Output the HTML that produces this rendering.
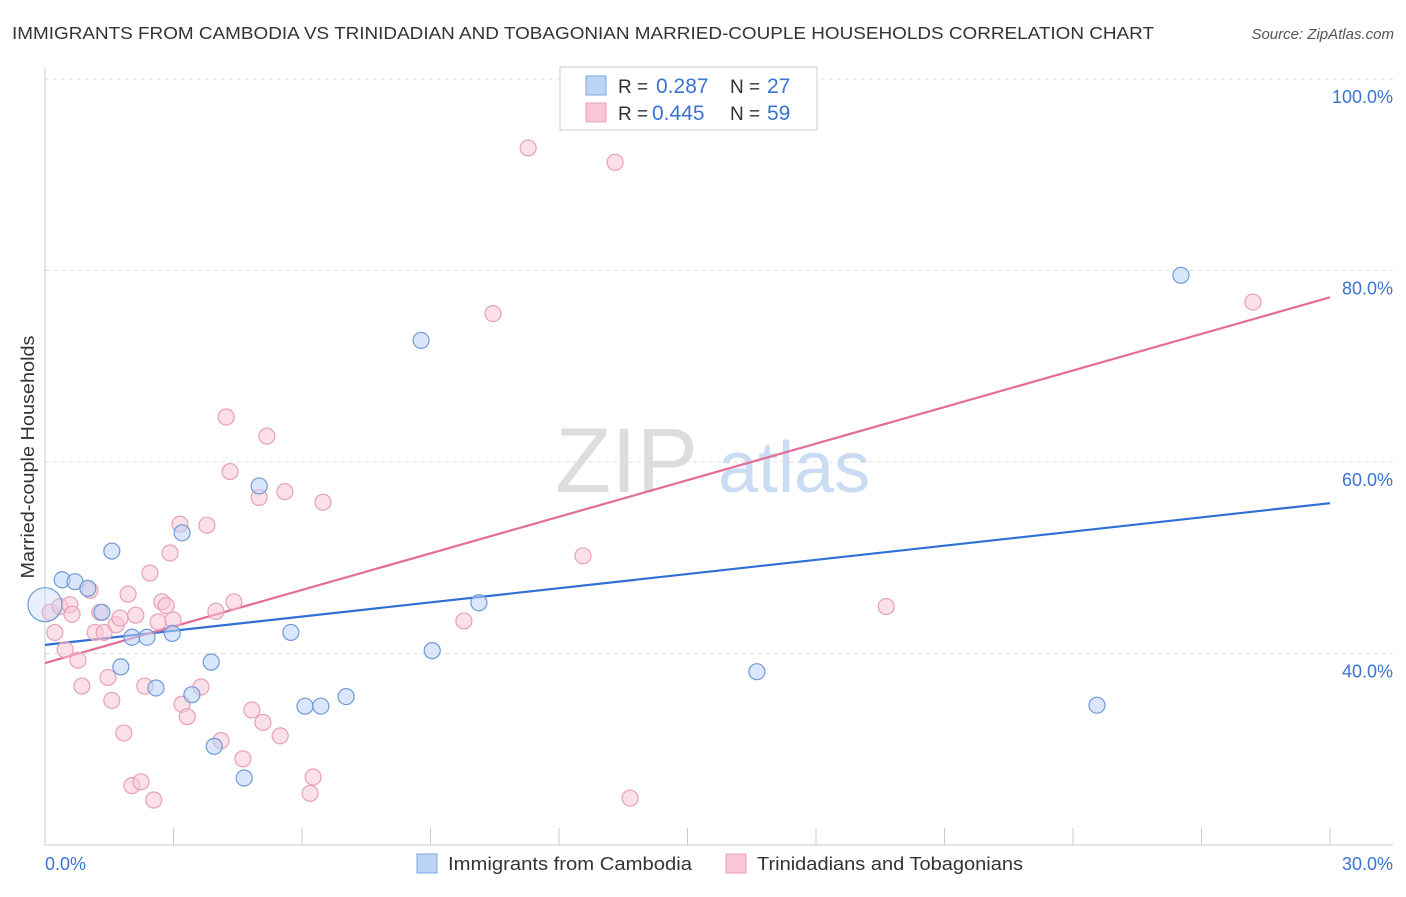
<!DOCTYPE html>
<html><head><meta charset="utf-8"><style>
body{margin:0;background:#fff;font-family:"Liberation Sans",sans-serif}
svg text{font-family:"Liberation Sans",sans-serif}
</style></head><body>
<svg id="chart" width="1406" height="892">
<text x="12" y="39" font-size="17.5" fill="#333" textLength="1142" lengthAdjust="spacingAndGlyphs">IMMIGRANTS FROM CAMBODIA VS TRINIDADIAN AND TOBAGONIAN MARRIED-COUPLE HOUSEHOLDS CORRELATION CHART</text>
<text x="1394" y="39" font-size="15" fill="#555" font-style="italic" text-anchor="end">Source: ZipAtlas.com</text>
<text x="34" y="457" font-size="18" fill="#333" text-anchor="middle" textLength="243" lengthAdjust="spacingAndGlyphs" transform="rotate(-90 34 457)">Married-couple Households</text>
<g><text x="555" y="492" font-size="92" fill="#ddd" font-family="Liberation Serif">ZIP</text><text x="718" y="492" font-size="72" fill="#c9dcf3">atlas</text></g>
<g id="grid"></g><g id="axes"></g><g id="lines"></g><g id="pts"></g>
<g>
<rect x="560" y="67" width="257" height="63" fill="#fff" stroke="#ccc"/>
<rect x="586" y="76" width="20" height="19" fill="#bcd4f5" stroke="#7aa6e0"/>
<text y="93" font-size="19" fill="#333"><tspan x="618">R =</tspan><tspan x="656" fill="#3a74d0" font-size="21">0.287</tspan><tspan x="730">N =</tspan><tspan x="767" fill="#3a74d0" font-size="21">27</tspan></text>
<rect x="586" y="103" width="20" height="19" fill="#f8c6d6" stroke="#e8a0b8"/>
<text y="120" font-size="19" fill="#333"><tspan x="618">R =</tspan><tspan x="652" fill="#3a74d0" font-size="21">0.445</tspan><tspan x="730">N =</tspan><tspan x="767" fill="#3a74d0" font-size="21">59</tspan></text>
</g>
<g>
<rect x="417" y="854" width="20" height="19" fill="#bcd4f5" stroke="#7aa6e0"/>
<text x="448" y="870" font-size="18" fill="#333" textLength="244" lengthAdjust="spacingAndGlyphs">Immigrants from Cambodia</text>
<rect x="726" y="854" width="20" height="19" fill="#f8c6d6" stroke="#e8a0b8"/>
<text x="757" y="870" font-size="18" fill="#333" textLength="266" lengthAdjust="spacingAndGlyphs">Trinidadians and Tobagonians</text>
</g>
</svg>
<script>
const blueX=[0,0.4,0.7,1.0,1.33,1.56,1.77,2.03,2.38,2.59,2.97,3.2,3.43,3.88,3.95,4.65,5.0,5.74,6.07,6.44,7.03,8.78,9.04,10.13,16.62,24.56,26.52];
const blueY=[45.1,47.7,47.5,46.8,44.3,50.7,38.6,41.7,41.7,36.4,42.1,52.6,35.7,39.1,30.3,27.0,57.5,42.2,34.5,34.5,35.5,72.7,40.3,45.3,38.1,34.6,79.5];
const pinkX=[0.12,0.23,0.35,0.47,0.58,0.63,0.77,0.86,1.05,1.17,1.28,1.38,1.47,1.56,1.66,1.75,1.84,1.94,2.03,2.12,2.24,2.33,2.45,2.54,2.64,2.73,2.83,2.92,2.99,3.15,3.2,3.32,3.64,3.78,3.99,4.11,4.23,4.32,4.41,4.62,4.83,5.0,5.09,5.18,5.49,5.6,6.19,6.26,6.49,9.78,10.46,11.28,12.56,13.31,13.66,19.64,28.2];
const pinkY=[44.3,42.2,44.9,40.4,45.1,44.1,39.3,36.6,46.6,42.2,44.3,42.2,37.5,35.1,43.0,43.7,31.7,46.2,26.2,44.0,26.6,36.6,48.4,24.7,43.3,45.4,45.0,50.5,43.5,53.5,34.7,33.4,36.5,53.4,44.4,30.9,64.7,59.0,45.4,29.0,34.1,56.3,32.8,62.7,31.4,56.9,25.4,27.1,55.8,43.4,75.5,92.8,50.2,91.3,24.9,44.9,76.7];
const blueTrend=[40.9,55.7];
const pinkTrend=[39.0,77.2];
const yTicks=[40,60,80,100];
const xTickVals=[0,3,6,9,12,15,18,21,24,27,30];
const NS="http://www.w3.org/2000/svg";
const sx=v=>45+v*(1285/30);
const sy=v=>845-(v-20)*(191.5/20);
function mk(tag,attrs,parent){const e=document.createElementNS(NS,tag);for(const k in attrs)e.setAttribute(k,attrs[k]);document.getElementById(parent).appendChild(e);return e;}
yTicks.forEach(t=>{
 const l=mk('line',{x1:45,x2:1393,y1:sy(t),y2:sy(t),stroke:'#ddd','stroke-dasharray':'4,4'},'grid');
 
 
 const tx=mk('text',{x:1393,y:sy(t)+24,'font-size':18,fill:'#3a74d0','text-anchor':'end'},'grid');
 tx.textContent=t.toFixed(1)+'%';
 
 
});
const ax=mk('line',{x1:45,x2:1393,y1:845,y2:845,stroke:'#ccc'},'axes');


const ay=mk('line',{x1:45,x2:45,y1:68,y2:845,stroke:'#ccc'},'axes');


xTickVals.forEach(t=>{if(t===0)return;
 const l=mk('line',{x1:sx(t),x2:sx(t),y1:828,y2:845,stroke:'#ccc'},'axes');
 
 
});
const x0=mk('text',{x:45,y:870,'font-size':18,fill:'#3a74d0'},'axes');x0.textContent='0.0%';


const x1=mk('text',{x:1393,y:870,'font-size':18,fill:'#3a74d0','text-anchor':'end'},'axes');x1.textContent='30.0%';


function pts(X,Y,fill,stroke,name){X.forEach((x,i)=>{
 const big=(i===0&&name==='point-cambodia');
 const c=mk('circle',{cx:sx(x),cy:sy(Y[i]),r:big?17:8,fill:fill,'fill-opacity':big?0.35:0.55,stroke:stroke,'stroke-width':1.2},'pts');
 
 
});}
pts(pinkX,pinkY,'#f8c6d6','#e8a0b8','point-trinidad');
pts(blueX,blueY,'#bcd4f5','#6f9ad8','point-cambodia');
const bl=mk('line',{x1:sx(0),x2:sx(30),y1:sy(blueTrend[0]),y2:sy(blueTrend[1]),stroke:'#2f6fd6','stroke-width':2.2},'lines');


const pl=mk('line',{x1:sx(0),x2:sx(30),y1:sy(pinkTrend[0]),y2:sy(pinkTrend[1]),stroke:'#e46c98','stroke-width':2.2},'lines');


</script>
</body></html>
